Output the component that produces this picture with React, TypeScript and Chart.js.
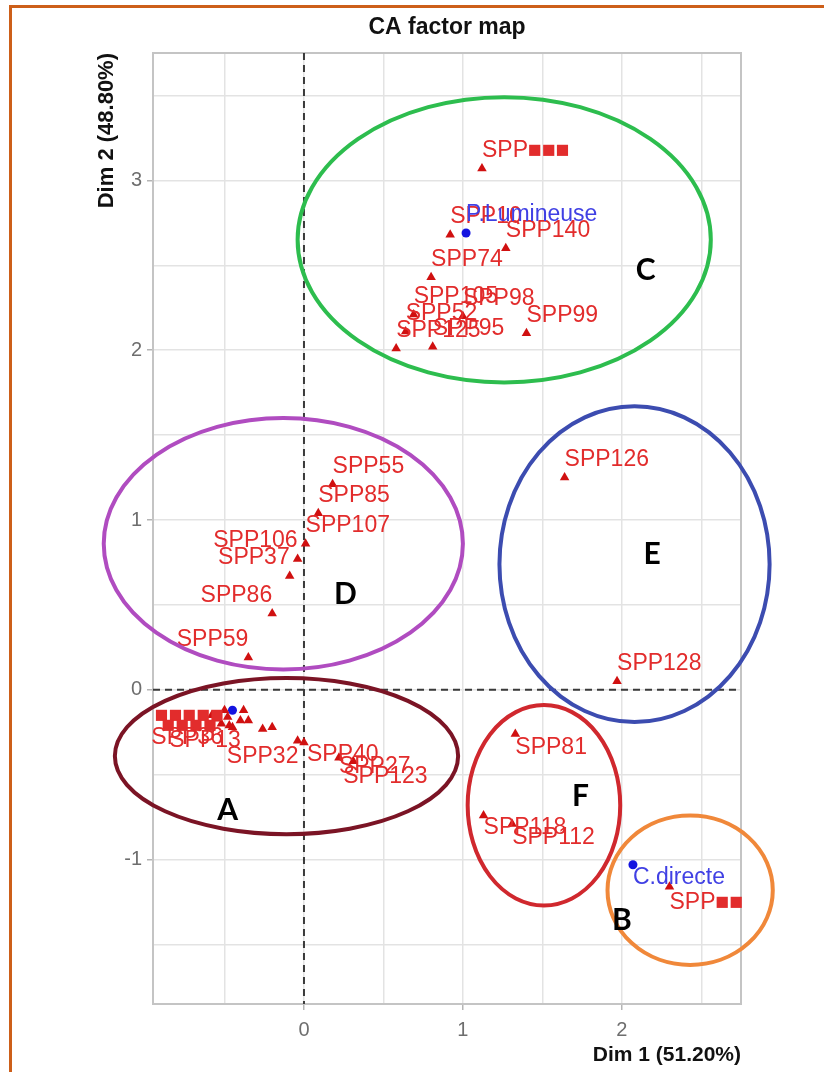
import React, { useEffect, useRef } from 'react';
import { Chart, registerables } from 'chart.js';

Chart.register(...registerables);

// ---- Data ----
const rowNames = [
  'SPP■■■', 'SPP10', 'SPP140', 'SPP74', 'SPP105', 'SPP98', 'SPP99', 'SPP52', 'SPP125', 'SPP95',
  'SPP55', 'SPP85', 'SPP107', 'SPP106', 'SPP37', 'SPP86', 'SPP59',
  'SPP126', 'SPP128',
  'SPP81', 'SPP118', 'SPP112',
  'SPP■■',
  'SPP32', 'SPP40', 'SPP27', 'SPP123', '■■■■■', '■■■■', 'SPP36', 'SPP13',
  '', '', '', '', '', '', '', '',
];
const rowDim1 = [
  1.12, 0.92, 1.27, 0.80, 0.69, 1.00, 1.40, 0.64, 0.58, 0.81,
  0.18, 0.09, 0.01, -0.04, -0.09, -0.20, -0.35,
  1.64, 1.97,
  1.33, 1.13, 1.31,
  2.30,
  -0.26, 0.00, 0.22, 0.31, -0.58, -0.55, -0.52, -0.47,
  -0.50, -0.38, -0.48, -0.40, -0.35, -0.45, -0.20, -0.04,
];
const rowDim2 = [
  3.07, 2.68, 2.60, 2.43, 2.21, 2.20, 2.10, 2.11, 2.01, 2.02,
  1.21, 1.04, 0.86, 0.77, 0.67, 0.45, 0.19,
  1.25, 0.05,
  -0.26, -0.74, -0.79,
  -1.16,
  -0.23, -0.31, -0.40, -0.42, -0.15, -0.17, -0.20, -0.21,
  -0.12, -0.12, -0.16, -0.18, -0.18, -0.22, -0.22, -0.30,
];

const colNames = ['P.Lumineuse', 'C.directe', ''];
const colDim1 = [1.02, 2.07, -0.45];
const colDim2 = [2.69, -1.03, -0.12];

const groupLetters = ['C', 'D', 'E', 'A', 'F', 'B'];
const groupCx = [1.26, -0.13, 2.08, -0.11, 1.51, 2.43];
const groupCy = [2.65, 0.86, 0.74, -0.39, -0.68, -1.18];
const groupRx = [1.30, 1.13, 0.85, 1.08, 0.48, 0.52];
const groupRy = [0.84, 0.74, 0.93, 0.46, 0.59, 0.44];
const letterX = [2.15, 0.26, 2.19, -0.48, 1.74, 2.0];
const letterY = [2.47, 0.56, 0.8, -0.71, -0.63, -1.36];

const xTicks = [-0.5, 0, 0.5, 1, 1.5, 2, 2.5];
const yTicks = [-1.5, -1, -0.5, 0, 0.5, 1, 1.5, 2, 2.5, 3, 3.5];
const xRange = [-0.95, 2.75];
const yRange = [-1.85, 3.75];

const titleText = 'CA factor map';
const xTitle = 'Dim 1 (51.20%)';
const yTitle = 'Dim 2 (48.80%)';

// ---- Styles ----
const groupColors: Record<string, string> = {
  C: '#2dbd4e',
  D: '#b04cc0',
  E: '#3c4cb0',
  A: '#7b1425',
  F: '#d0282e',
  B: '#f0883a',
};

type Place = { dx?: number; dy?: number; align?: CanvasTextAlign };
const labelPlacement: Record<string, Place> = {
  SPP106: { align: 'right' },
  SPP37: { align: 'right' },
  SPP86: { align: 'right' },
  SPP59: { align: 'right' },
  SPP81: { dy: 14 },
  SPP118: { dy: 12 },
  SPP112: { dy: 14 },
  'C.directe': { dy: 13 },
  'SPP■■': { dy: 16 },
  SPP32: { align: 'center', dy: 28 },
  SPP40: { dx: 3, dy: 12 },
  SPP27: { dy: 9 },
  SPP123: { dx: -10, dy: 16 },
  '■■■■■': { dx: -57, dy: 0 },
  '■■■■': { dx: -55, dy: 7 },
  SPP36: { dx: -70, dy: 14 },
  SPP13: { dx: -60, dy: 15 },
};

const FONT = '"Liberation Sans", Arial, sans-serif';

const overlayPlugin = {
  id: 'caOverlay',
  beforeDatasetsDraw(chart: any) {
    const { ctx, chartArea: a, scales } = chart;
    const x = scales.x;
    const y = scales.y;
    ctx.save();
    ctx.strokeStyle = '#c4c4c4';
    ctx.lineWidth = 2;
    ctx.strokeRect(a.left, a.top, a.right - a.left, a.bottom - a.top);
    ctx.setLineDash([7, 5]);
    ctx.strokeStyle = '#3a3a3a';
    ctx.lineWidth = 2;
    const x0 = x.getPixelForValue(0);
    const y0 = y.getPixelForValue(0);
    ctx.beginPath();
    ctx.moveTo(x0, a.top);
    ctx.lineTo(x0, a.bottom);
    ctx.moveTo(a.left, y0);
    ctx.lineTo(a.right, y0);
    ctx.stroke();
    ctx.restore();
  },
  afterDraw(chart: any) {
    const { ctx, chartArea: a, scales } = chart;
    const x = scales.x;
    const y = scales.y;
    ctx.save();

    const drawLabels = (names: string[], xs: number[], ys: number[], color: string) => {
      ctx.font = `23px ${FONT}`;
      ctx.fillStyle = color;
      ctx.textBaseline = 'middle';
      names.forEach((n, i) => {
        if (!n) return;
        const p = labelPlacement[n] || {};
        ctx.textAlign = p.align || 'left';
        const px = x.getPixelForValue(xs[i]) + (p.dx ?? 0);
        const py = y.getPixelForValue(ys[i]) + (p.dy ?? -18);
        ctx.fillText(n, px, py);
      });
    };
    drawLabels(rowNames, rowDim1, rowDim2, 'rgb(226,44,44)');
    drawLabels(colNames, colDim1, colDim2, 'rgb(64,64,228)');

    groupLetters.forEach((g, i) => {
      const cx = x.getPixelForValue(groupCx[i]);
      const cy = y.getPixelForValue(groupCy[i]);
      const rx = Math.abs(x.getPixelForValue(groupCx[i] + groupRx[i]) - cx);
      const ry = Math.abs(y.getPixelForValue(groupCy[i] + groupRy[i]) - cy);
      ctx.beginPath();
      ctx.ellipse(cx, cy, rx, ry, 0, 0, Math.PI * 2);
      ctx.strokeStyle = groupColors[g];
      ctx.lineWidth = 4;
      ctx.stroke();
    });

    ctx.font = 'bold 30px Lato, "Open Sans", sans-serif';
    ctx.fillStyle = '#000';
    ctx.textAlign = 'center';
    ctx.textBaseline = 'middle';
    groupLetters.forEach((g, i) => {
      ctx.fillText(g, x.getPixelForValue(letterX[i]), y.getPixelForValue(letterY[i]));
    });

    ctx.font = `bold 23px ${FONT}`;
    ctx.fillStyle = '#111';
    ctx.textAlign = 'center';
    ctx.fillText(titleText, (a.left + a.right) / 2, 28);

    ctx.font = `bold 21px ${FONT}`;
    ctx.textAlign = 'right';
    ctx.fillText(xTitle, a.right, 1055);

    ctx.font = `bold 22px ${FONT}`;
    ctx.translate(107, a.top);
    ctx.rotate(-Math.PI / 2);
    ctx.textAlign = 'right';
    ctx.fillText(yTitle, 0, 0);

    ctx.restore();
  },
};

const tickColor = (c: any) =>
  c.tick && Number.isInteger(c.tick.value) ? '#b5b5b5' : 'rgba(0,0,0,0)';
const tickLabel = (v: any) => (Number.isInteger(Number(v)) ? String(v) : '');

export default function App() {
  const ref = useRef<HTMLCanvasElement>(null);

  useEffect(() => {
    const canvas = ref.current;
    if (!canvas) return;
    const chart = new Chart(canvas, {
      type: 'scatter',
      data: {
        datasets: [
          {
            label: 'rows',
            data: rowDim1.map((v, i) => ({ x: v, y: rowDim2[i] })),
            pointStyle: 'triangle',
            pointRadius: 5.5,
            backgroundColor: '#d01010',
            borderColor: '#d01010',
            borderWidth: 0,
          },
          {
            label: 'columns',
            data: colDim1.map((v, i) => ({ x: v, y: colDim2[i] })),
            pointStyle: 'circle',
            pointRadius: 4.5,
            backgroundColor: '#1414e0',
            borderColor: '#1414e0',
            borderWidth: 0,
          },
        ],
      },
      options: {
        responsive: false,
        animation: false,
        devicePixelRatio: 1,
        layout: { padding: { top: 53, right: 83, bottom: 0, left: 0 } },
        plugins: {
          legend: { display: false },
          tooltip: { enabled: false },
          title: { display: false },
        },
        scales: {
          x: {
            type: 'linear',
            min: xRange[0],
            max: xRange[1],
            afterBuildTicks: (s: any) => {
              s.ticks = xTicks.map((v) => ({ value: v }));
            },
            afterFit: (s: any) => {
              s.height = 68;
            },
            grid: {
              color: '#e3e3e3',
              lineWidth: 1.5,
              tickLength: 6,
              tickColor: tickColor,
            },
            border: { display: false },
            ticks: {
              autoSkip: false,
              maxRotation: 0,
              padding: 8,
              color: '#6e6e6e',
              font: { size: 20, family: FONT },
              callback: tickLabel,
            },
          },
          y: {
            type: 'linear',
            min: yRange[0],
            max: yRange[1],
            afterBuildTicks: (s: any) => {
              s.ticks = yTicks.map((v) => ({ value: v }));
            },
            afterFit: (s: any) => {
              s.width = 153;
            },
            grid: {
              color: '#e3e3e3',
              lineWidth: 1.5,
              tickLength: 6,
              tickColor: tickColor,
            },
            border: { display: false },
            ticks: {
              autoSkip: false,
              padding: 5,
              color: '#6e6e6e',
              font: { size: 20, family: FONT },
              callback: tickLabel,
            },
          },
        },
      },
      plugins: [overlayPlugin],
    } as any);
    return () => chart.destroy();
  }, []);

  return (
    <div
      style={{
        position: 'absolute',
        left: 0,
        top: 0,
        width: 824,
        height: 1072,
        background: '#fff',
        overflow: 'hidden',
      }}
    >
      <canvas ref={ref} width={824} height={1072} style={{ display: 'block', width: 824, height: 1072 }} />
      <div
        style={{
          position: 'absolute',
          left: 9,
          top: 5,
          width: 815,
          height: 1067,
          borderLeft: '3px solid #cd5f19',
          borderTop: '3px solid #cd5f19',
          boxSizing: 'border-box',
          pointerEvents: 'none',
        }}
      />
    </div>
  );
}
